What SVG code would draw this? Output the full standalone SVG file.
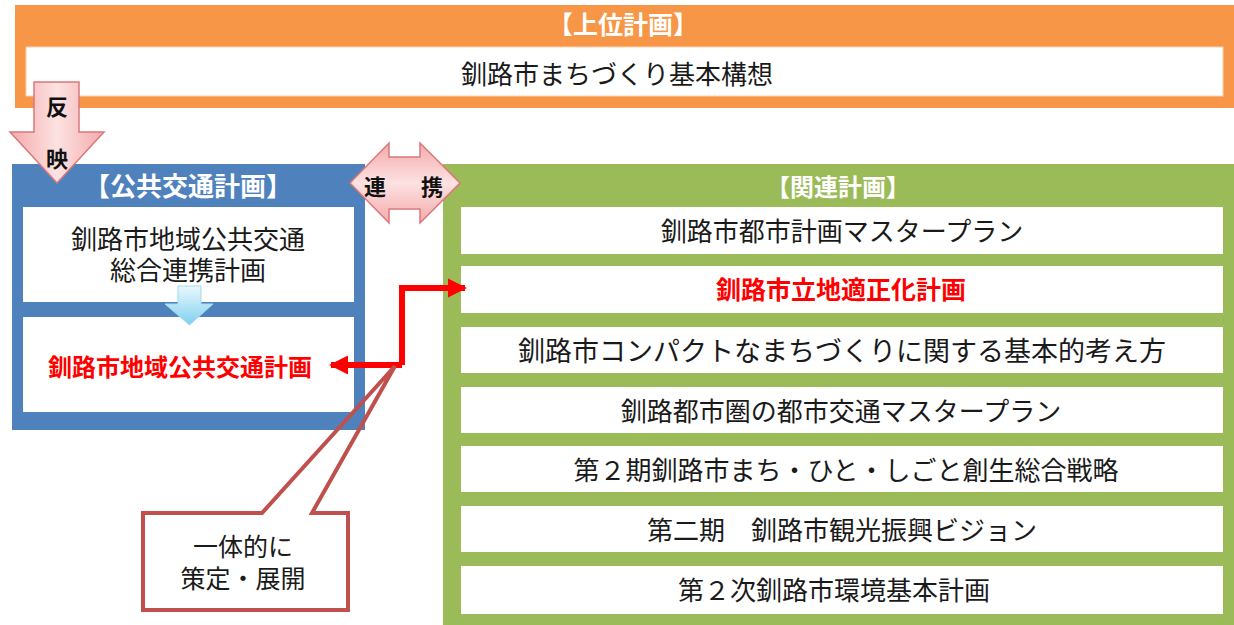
<svg xmlns="http://www.w3.org/2000/svg" width="1234" height="625" viewBox="0 0 1234 625">
<defs>
<linearGradient id="pinkH" x1="0" y1="0" x2="1" y2="0">
<stop offset="0" stop-color="#f4a9aa"/><stop offset="0.5" stop-color="#fde2e2"/><stop offset="1" stop-color="#f4a9aa"/>
</linearGradient>
<linearGradient id="pinkV" x1="0" y1="0" x2="0" y2="1">
<stop offset="0" stop-color="#f4a9aa"/><stop offset="0.5" stop-color="#fde2e2"/><stop offset="1" stop-color="#f4a9aa"/>
</linearGradient>
<linearGradient id="cyan" x1="0" y1="0" x2="0" y2="1">
<stop offset="0" stop-color="#eaf8fd"/><stop offset="1" stop-color="#7fd0ef"/>
</linearGradient>
<marker id="redHead" viewBox="0 0 10 10" refX="9" refY="5" markerWidth="3.2" markerHeight="3.8" orient="auto-start-reverse" markerUnits="strokeWidth">
<path d="M0,0 L10,5 L0,10 Z" fill="#ff0000"/>
</marker>
</defs>
<style>
text{font-family:"Noto Sans CJK JP","Noto Sans",sans-serif;text-anchor:middle;dominant-baseline:central}
.t{font-size:26px;fill:#1a1a1a}
.hd{font-size:24px;font-weight:bold;fill:#ffffff}
.red{font-size:24px;font-weight:bold;fill:#ff0000}
.bk{font-size:22px;font-weight:bold;fill:#111111}
.wb{fill:#ffffff}
.pk{stroke:#d9787b;stroke-width:1.5}
</style>
<rect width="1234" height="625" fill="#ffffff"/>

<g id="upper">
<rect x="15" y="5" width="1219" height="103" fill="#f79646"/>
<rect class="wb" x="26" y="47" width="1197" height="49" stroke="#fbd2b0" stroke-width="1"/>
<text class="hd" x="623" y="23" style="font-size:25px">【上位計画】</text>
<text class="t" x="617" y="72">釧路市まちづくり基本構想</text>
</g>

<g id="callout-fill">
<path d="M143,513 L262,513 L395,366 L312,513 L348,513 L348,610 L143,610 Z" fill="#ffffff"/>
</g>

<g id="public">
<rect x="12" y="164" width="353" height="266" fill="#4f81bd"/>
<rect class="wb" x="23" y="207" width="331" height="95"/>
<rect class="wb" x="23" y="317" width="331" height="95"/>
<text class="hd" x="188" y="184" style="font-size:26px">【公共交通計画】</text>
<text class="t" x="188" y="237">釧路市地域公共交通<tspan x="188" dy="31">総合連携計画</tspan></text>
<text class="red" x="180" y="365">釧路市地域公共交通計画</text>
<path d="M178,286 L201,286 L201,304 L213,304 L189.5,325 L165,304 L178,304 Z" fill="url(#cyan)" stroke="#9fdcf3" stroke-width="1"/>
</g>

<g id="related">
<rect x="443" y="164" width="791" height="461" fill="#9bbb59"/>
<text class="hd" x="838" y="185">【関連計画】</text>
<rect class="wb" x="461" y="207" width="762" height="47"/>
<rect class="wb" x="461" y="266" width="762" height="47"/>
<rect class="wb" x="461" y="327" width="762" height="46"/>
<rect class="wb" x="461" y="387" width="762" height="46"/>
<rect class="wb" x="461" y="446" width="762" height="46"/>
<rect class="wb" x="461" y="506" width="762" height="46"/>
<rect class="wb" x="461" y="566" width="762" height="48"/>
<text class="t" x="842" y="229">釧路市都市計画マスタープラン</text>
<text class="red" x="841" y="288" style="font-size:25px">釧路市立地適正化計画</text>
<text class="t" x="842" y="349" style="font-size:27px">釧路市コンパクトなまちづくりに関する基本的考え方</text>
<text class="t" x="841" y="409">釧路都市圏の都市交通マスタープラン</text>
<text class="t" x="846" y="468">第２期釧路市まち・ひと・しごと創生総合戦略</text>
<text class="t" x="842" y="528">第二期　釧路市観光振興ビジョン</text>
<text class="t" x="834" y="588">第２次釧路市環境基本計画</text>
</g>

<g id="reflect-arrow">
<path class="pk" d="M34,82 L79,82 L79,132 L104,132 L57,183 L10,132 L34,132 Z" fill="url(#pinkH)"/>
<text class="bk" x="57" y="105">反</text>
<text class="bk" x="57" y="157">映</text>
</g>

<g id="link-arrow">
<path class="pk" d="M350,183 L389,143 L389,157 L420,157 L420,143 L460,183 L420,223 L420,209 L389,209 L389,223 Z" fill="url(#pinkV)"/>
<text class="bk" x="375" y="185">連</text>
<text class="bk" x="432" y="185">携</text>
</g>

<g id="connectors">
<path d="M402,365 L402,288 L465,288" fill="none" stroke="#ff0000" stroke-width="6" marker-end="url(#redHead)"/>
<path d="M402,365 L331,365" fill="none" stroke="#ff0000" stroke-width="6" marker-end="url(#redHead)"/>
</g>

<g id="callout">
<path d="M143,513 L262,513 L395,366 L312,513 L348,513 L348,610 L143,610 Z" fill="none" stroke="#c0504d" stroke-width="4" stroke-linejoin="miter"/>
<text class="t" x="243" y="545" style="font-size:25px">一体的に<tspan x="243" dy="32">策定・展開</tspan></text>
</g>
</svg>
